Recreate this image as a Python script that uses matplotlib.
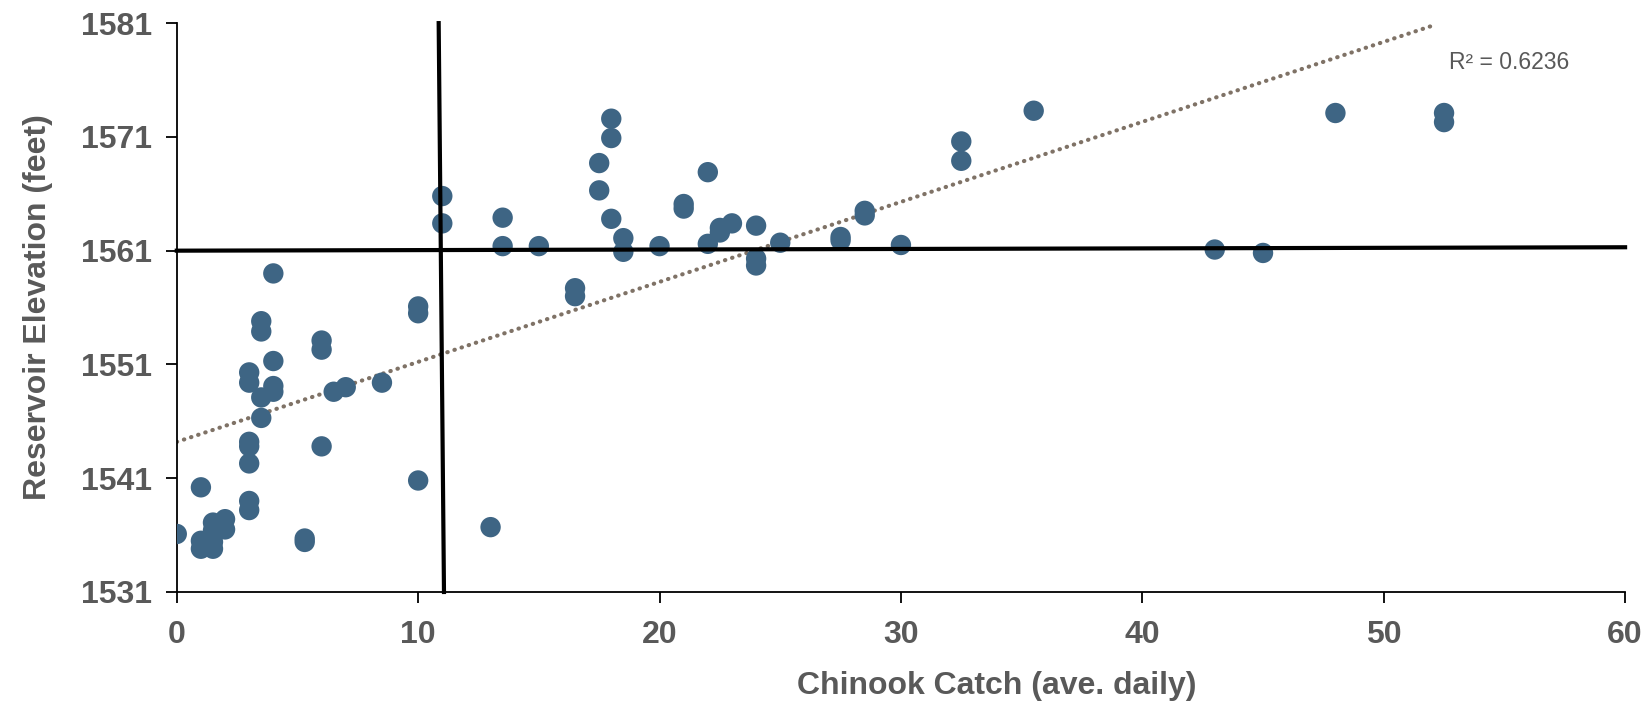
import matplotlib

matplotlib.use("Agg")
import matplotlib.pyplot as plt
import numpy as np

# Average daily chinook catch vs. reservoir elevation
catch = [
    0, 1, 1, 1, 1.5, 1.5, 1.5, 1.5, 2, 2,
    3, 3, 3, 3, 3, 3, 3, 3.5, 3.5, 3.5, 3.5,
    4, 4, 4, 4, 5.3, 5.3, 6, 6, 6, 6.5, 7, 8.5,
    10, 10, 10, 11, 11, 13, 13.5, 13.5, 15, 16.5, 16.5,
    17.5, 17.5, 18, 18, 18, 18.5, 18.5, 20, 21, 21,
    22, 22, 22.5, 22.5, 23, 24, 24, 24, 25, 27.5, 27.5,
    28.5, 28.5, 30, 32.5, 32.5, 35.5, 43, 45, 48, 52.5, 52.5,
]
elevation = [
    1536.1, 1540.2, 1535.5, 1534.8, 1537.1, 1536.4, 1535.4, 1534.8, 1537.4, 1536.5,
    1539.0, 1538.2, 1542.3, 1544.2, 1543.8, 1550.3, 1549.4, 1546.3, 1548.1, 1554.8, 1553.9,
    1559.0, 1551.3, 1549.1, 1548.6, 1535.7, 1535.4, 1543.8, 1553.1, 1552.3, 1548.6, 1549.0, 1549.4,
    1556.1, 1555.5, 1540.8, 1565.8, 1563.4, 1536.7, 1563.9, 1561.4, 1561.4, 1557.7, 1557.0,
    1568.7, 1566.3, 1572.6, 1570.9, 1563.8, 1562.1, 1560.9, 1561.4, 1565.1, 1564.7,
    1567.9, 1561.6, 1562.6, 1563.0, 1563.4, 1563.2, 1560.3, 1559.7, 1561.7, 1562.2, 1561.9,
    1564.5, 1564.1, 1561.5, 1570.6, 1568.9, 1573.3, 1561.1, 1560.8, 1573.1, 1573.1, 1572.3,
]
r2_label = "R² = 0.6236"

# Threshold lines (catch ~11, elevation ~1561)
vline_x = [10.85, 11.07]
vline_y = [1581, 1531]
hline_x = [0, 60]
hline_y = [1561.0, 1561.3]

gray = "#595959"
plt.rcParams["font.family"] = ["Liberation Sans", "DejaVu Sans"]

fig = plt.figure(figsize=(16.49, 7.05), dpi=100)
ax = fig.add_axes([0.1072, 0.1603, 0.8783, 0.8069])

# linear trend line
x = np.array(catch)
y = np.array(elevation)
slope, intercept = np.polyfit(x, y, 1)
xt = np.array([0, 52.2])
ax.plot(xt, slope * xt + intercept, color="#7f7266", lw=3,
        linestyle=(0, (0.1, 1.7)), dash_capstyle="round", zorder=2)

ax.scatter(x, y, s=215, color="#3e6584", edgecolors="none", zorder=3)

ax.plot(vline_x, vline_y, color="black", lw=3, zorder=4, clip_on=False)
ax.plot(hline_x, hline_y, color="black", lw=3, zorder=4, clip_on=False)

ax.text(52.7, 1577.5, r2_label, fontsize=16.5, color=gray, ha="left", va="center")

ax.set_xlim(0, 60)
ax.set_ylim(1531, 1581)
ax.set_xticks(range(0, 61, 10))
ax.set_yticks(range(1531, 1582, 10))
for side in ("top", "right"):
    ax.spines[side].set_visible(False)
for side in ("left", "bottom"):
    ax.spines[side].set_color("black")
    ax.spines[side].set_linewidth(1.3)
ax.tick_params(axis="both", direction="out", length=8, width=1.3,
               labelsize=23, labelcolor=gray)
ax.tick_params(axis="x", pad=12)
ax.tick_params(axis="y", pad=10)
for lbl in ax.get_xticklabels() + ax.get_yticklabels():
    lbl.set_fontweight("bold")

ax.set_xlabel("Chinook Catch (ave. daily)", fontsize=23, fontweight="bold",
              color=gray, va="center")
ax.xaxis.set_label_coords(0.566, -0.165)
ax.set_ylabel("Reservoir Elevation (feet)", fontsize=23, fontweight="bold",
              color=gray, labelpad=20)

fig.savefig("out.png", dpi=100)
